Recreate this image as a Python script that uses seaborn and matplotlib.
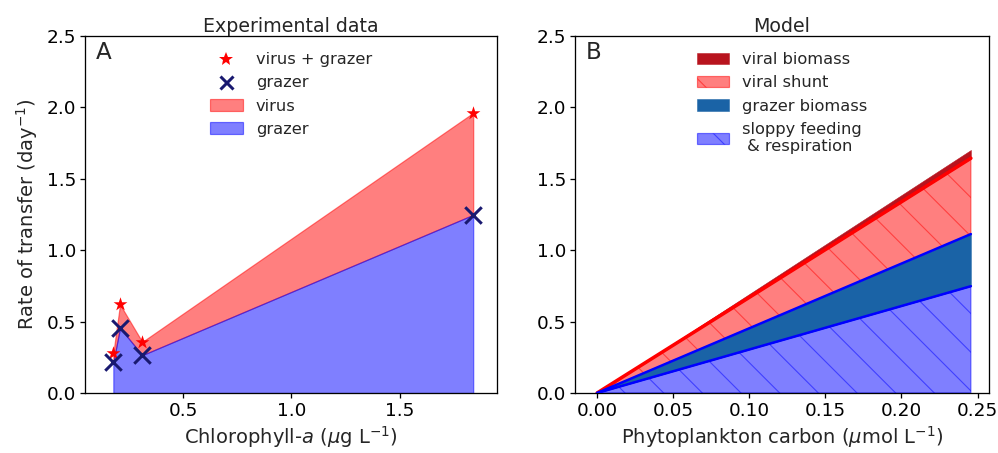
import numpy as np
import pandas as pd
import matplotlib
matplotlib.use("Agg")
import matplotlib.pyplot as plt
import seaborn as sns
from matplotlib.lines import Line2D

# ---------------- data ----------------
chl_a = [0.176, 0.207, 0.31, 1.841]            # Chlorophyll-a (ug/L)
virus_plus_grazer = [0.28, 0.62, 0.358, 1.962]  # total rate (day^-1)
grazer_rate = [0.215, 0.456, 0.265, 1.248]      # grazer rate (day^-1)

phyto_carbon = [0.0, 0.2456]                    # umol/L
sloppy_top = [0.0, 0.748]
grazer_biomass_top = [0.0, 1.113]
viral_shunt_top = [0.0, 1.644]
viral_biomass_top = [0.0, 1.702]

y_ticks = [0.0, 0.5, 1.0, 1.5, 2.0, 2.5]

# ---------------- style ----------------
DPI = 116
P = 72.0 / DPI   # px -> pt

sns.set_style("ticks")
plt.rcParams.update({
    "font.family": ["DejaVu Sans"],
    "mathtext.fontset": "dejavusans",
    "axes.linewidth": 1.3 * P,
    "xtick.major.size": 5 * P,
    "ytick.major.size": 5 * P,
    "xtick.major.width": 1.3 * P,
    "ytick.major.width": 1.3 * P,
    "xtick.major.pad": 4 * P,
    "ytick.major.pad": 4 * P,
    "xtick.labelsize": 18.5 * P,
    "ytick.labelsize": 18.5 * P,
    "axes.labelsize": 19.5 * P,
    "axes.titlesize": 19 * P,
    "legend.fontsize": 16.3 * P,
    "hatch.linewidth": 1.1 * P,
    "axes.edgecolor": "black",
    "xtick.color": "black",
    "ytick.color": "black",
})

fig = plt.figure(figsize=(998 / DPI, 453 / DPI), dpi=DPI)
axA = fig.add_axes([85 / 998, 1 - 393 / 453, (497 - 85) / 998, (393 - 36) / 453])
axB = fig.add_axes([575 / 998, 1 - 393 / 453, (989 - 575) / 998, (393 - 36) / 453])

dfA = pd.DataFrame({"chl": chl_a, "tot": virus_plus_grazer, "graz": grazer_rate})

# ---------------- panel A ----------------
fv = axA.fill_between(dfA["chl"], dfA["graz"], dfA["tot"], color="red", alpha=0.5,
                      linewidth=1.2 * P, label="virus")
fg = axA.fill_between(dfA["chl"], 0, dfA["graz"], color="blue", alpha=0.5,
                      linewidth=1.2 * P, label="grazer")
sns.scatterplot(data=dfA, x="chl", y="tot", marker="*", s=(14.5 * P) ** 2,
                color="red", linewidth=0, ax=axA, zorder=5, legend=False)
sns.scatterplot(data=dfA, x="chl", y="graz", marker="x", s=(16.5 * P) ** 2,
                color="#191970", linewidth=3 * P, ax=axA, zorder=6, legend=False)

h_star = Line2D([], [], linestyle="none", marker="*", markersize=15 * P,
                color="red", markeredgewidth=0)
h_x = Line2D([], [], linestyle="none", marker="x", markersize=13 * P,
             color="#191970", markeredgewidth=3 * P)
axA.legend([h_star, h_x, fv, fg], ["virus + grazer", "grazer", "virus", "grazer"],
           loc="upper center", frameon=False, labelspacing=0.5,
           handlelength=2.0, handletextpad=0.8, borderaxespad=0.6)

axA.set_xlim(0.045, 1.951)
axA.set_ylim(0, 2.5)
axA.set_yticks(y_ticks)
axA.set_xticks([0.5, 1.0, 1.5])
axA.set_xlabel(r"Chlorophyll-$a$ ($\mu$g L$^{-1}$)", labelpad=4 * P)
axA.set_ylabel(r"Rate of transfer (day$^{-1}$)", labelpad=6 * P)
axA.set_title("Experimental data", pad=4.5 * P)
axA.text(0.027, 0.985, "A", transform=axA.transAxes, fontsize=23 * P,
         va="top", ha="left")

# ---------------- panel B ----------------
dfB = pd.DataFrame({"c": phyto_carbon, "s": sloppy_top, "g": grazer_biomass_top,
                    "v": viral_shunt_top, "b": viral_biomass_top})

f1 = axB.fill_between(dfB["c"], dfB["v"], dfB["b"], facecolor="#b8141e",
                      edgecolor="#b8141e", linewidth=0.5 * P, label="viral biomass")
f2 = axB.fill_between(dfB["c"], dfB["g"], dfB["v"], facecolor=(1, 0, 0, 0.5),
                      edgecolor=(1, 0, 0, 0.5), hatch="\\", linewidth=1.2 * P,
                      label="viral shunt")
f3 = axB.fill_between(dfB["c"], dfB["s"], dfB["g"], facecolor="#1a63a6",
                      edgecolor="#1a63a6", linewidth=0.5 * P, label="grazer biomass")
f4 = axB.fill_between(dfB["c"], 0, dfB["s"], facecolor=(0, 0, 1, 0.5),
                      edgecolor=(0, 0, 1, 0.5), hatch="\\", linewidth=1.2 * P,
                      label="sloppy feeding\n & respiration")
sns.lineplot(data=dfB, x="c", y="v", color="red", linewidth=3.5 * P, ax=axB, zorder=4)
sns.lineplot(data=dfB, x="c", y="g", color="blue", linewidth=2.5 * P, ax=axB, zorder=4)
sns.lineplot(data=dfB, x="c", y="s", color="blue", linewidth=2.5 * P, ax=axB, zorder=4)

axB.legend([f1, f2, f3, f4],
           ["viral biomass", "viral shunt", "grazer biomass", "sloppy feeding\n & respiration"],
           loc="upper center", frameon=False, labelspacing=0.5,
           handlelength=2.0, handletextpad=0.8, borderaxespad=0.6)

axB.set_xlim(-0.0145, 0.2575)
axB.set_ylim(0, 2.5)
axB.set_yticks(y_ticks)
axB.set_xticks([0.0, 0.05, 0.10, 0.15, 0.20, 0.25])
axB.set_xlabel(r"Phytoplankton carbon ($\mu$mol L$^{-1}$)", labelpad=4 * P)
axB.set_ylabel("")
axB.set_title("Model", pad=4.5 * P)
axB.text(0.027, 0.985, "B", transform=axB.transAxes, fontsize=23 * P,
         va="top", ha="left")

for ax in (axA, axB):
    for sp in ax.spines.values():
        sp.set_visible(True)

fig.savefig("out.png", dpi=DPI, facecolor="white")
